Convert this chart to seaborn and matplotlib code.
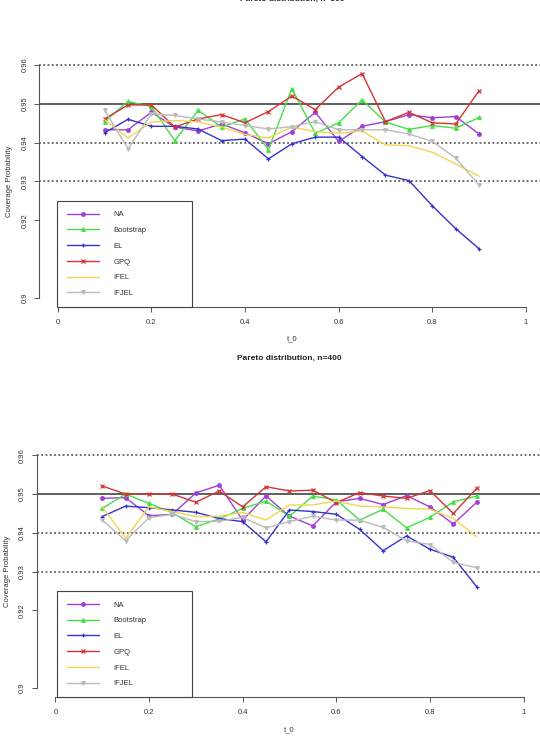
import matplotlib
matplotlib.use("Agg")
import matplotlib.pyplot as plt
import seaborn as sns
import pandas as pd

# data
t0 = [0.1, 0.15, 0.2, 0.25, 0.3, 0.35, 0.4, 0.45, 0.5, 0.55, 0.6, 0.65, 0.7, 0.75, 0.8, 0.85, 0.9]

na_300 = [0.9433, 0.9433, 0.9478, 0.9440, 0.9430, 0.9448, 0.9425, 0.9397, 0.9428, 0.9478, 0.9403, 0.9442, 0.9454, 0.9472, 0.9464, 0.9467, 0.9422]
bs_300 = [0.9454, 0.9506, 0.9493, 0.9405, 0.9483, 0.9440, 0.9461, 0.9382, 0.9539, 0.9424, 0.9451, 0.9510, 0.9453, 0.9434, 0.9444, 0.9437, 0.9465]
el_300 = [0.9425, 0.9460, 0.9442, 0.9442, 0.9435, 0.9405, 0.9409, 0.9358, 0.9397, 0.9414, 0.9414, 0.9364, 0.9316, 0.9302, 0.9237, 0.9178, 0.9126]
gpq_300 = [0.9461, 0.9497, 0.9497, 0.9440, 0.9461, 0.9472, 0.9451, 0.9480, 0.9520, 0.9485, 0.9543, 0.9578, 0.9454, 0.9478, 0.9451, 0.9448, 0.9534]
ifel_300 = [0.9459, 0.9412, 0.9453, 0.9457, 0.9453, 0.9440, 0.9421, 0.9412, 0.9440, 0.9428, 0.9424, 0.9430, 0.9394, 0.9392, 0.9375, 0.9345, 0.9313]
ifjel_300 = [0.9484, 0.9384, 0.9474, 0.9470, 0.9461, 0.9453, 0.9444, 0.9435, 0.9441, 0.9454, 0.9433, 0.9433, 0.9433, 0.9422, 0.9403, 0.9360, 0.9290]

na_400 = [0.9489, 0.9491, 0.9444, 0.9448, 0.9503, 0.9523, 0.9433, 0.9495, 0.9443, 0.9418, 0.9480, 0.9489, 0.9473, 0.9496, 0.9467, 0.9423, 0.9479]
bs_400 = [0.9463, 0.9500, 0.9476, 0.9452, 0.9416, 0.9436, 0.9463, 0.9482, 0.9443, 0.9495, 0.9485, 0.9433, 0.9461, 0.9413, 0.9440, 0.9480, 0.9495]
el_400 = [0.9442, 0.9469, 0.9465, 0.9459, 0.9453, 0.9437, 0.9429, 0.9377, 0.9459, 0.9455, 0.9448, 0.9409, 0.9354, 0.9392, 0.9358, 0.9337, 0.9261]
gpq_400 = [0.9521, 0.9500, 0.9500, 0.9500, 0.9479, 0.9508, 0.9467, 0.9519, 0.9508, 0.9510, 0.9478, 0.9504, 0.9495, 0.9489, 0.9509, 0.9450, 0.9515]
ifel_400 = [0.9467, 0.9386, 0.9467, 0.9455, 0.9442, 0.9443, 0.9453, 0.9433, 0.9472, 0.9472, 0.9482, 0.9469, 0.9467, 0.9463, 0.9461, 0.9437, 0.9390]
ifjel_400 = [0.9433, 0.9380, 0.9439, 0.9448, 0.9429, 0.9430, 0.9440, 0.9413, 0.9429, 0.9443, 0.9433, 0.9433, 0.9414, 0.9380, 0.9370, 0.9324, 0.9310]

methods = ["NA", "Bootstrap", "EL", "GPQ", "IFEL", "IFJEL"]
colors = ["#A040D8", "#44E044", "#3434CC", "#D43434", "#F2D450", "#BBBBBB"]
markers = ["o", "^", "+", "x", "", "v"]
y_ticks = [0.9, 0.92, 0.93, 0.94, 0.95, 0.96]
x_ticks = [0, 0.2, 0.4, 0.6, 0.8, 1]

sns.set_style("white")
plt.rcParams["font.family"] = ["Liberation Sans", "DejaVu Sans"]

fig = plt.figure(figsize=(5.4, 7.45), dpi=100)

W, H = 540, 745

def panel(left_px, top_px, series, n):
    width_px = 505.7
    height_px = 251.3
    ax = fig.add_axes([left_px / W, 1 - (top_px + height_px) / H, width_px / W, height_px / H])
    for name, vals, col, mk in zip(methods, series, colors, markers):
        df = pd.DataFrame({"t_0": t0, "cp": vals})
        if mk:
            sns.lineplot(data=df, x="t_0", y="cp", ax=ax, color=col, marker=mk, markersize=2.6,
                         markeredgewidth=0.9, markeredgecolor=col, markerfacecolor=col,
                         linewidth=1.0, label=name)
        else:
            sns.lineplot(data=df, x="t_0", y="cp", ax=ax, color=col, linewidth=1.0, label=name)
    for yv in [0.93, 0.94, 0.96]:
        ax.axhline(yv, color="#444444", linestyle=(0, (1.2, 1.6)), linewidth=1.1, zorder=0)
    ax.axhline(0.95, color="#333333", linewidth=1.1, zorder=0)

    ax.set_xlim(-0.04, 1.04)
    ax.set_ylim(0.8976, 0.9624)
    for s in ["top", "right"]:
        ax.spines[s].set_visible(False)
    ax.spines["left"].set_bounds(0.9, 0.96)
    ax.spines["bottom"].set_bounds(0, 1)
    for s in ["left", "bottom"]:
        ax.spines[s].set_color("#555555")
        ax.spines[s].set_linewidth(0.8)
    ax.set_xticks(x_ticks)
    ax.set_xticklabels(["0", "0.2", "0.4", "0.6", "0.8", "1"])
    ax.set_yticks(y_ticks)
    ax.set_yticklabels([str(v) for v in y_ticks], rotation=90, va="center")
    ax.tick_params(axis="both", direction="out", length=3.5, width=0.7, color="#555555",
                   labelsize=5.5, labelcolor="#333333", left=True, bottom=True)
    ax.tick_params(axis="x", pad=5)
    ax.tick_params(axis="y", pad=4)
    ax.set_xlabel("")
    ax.set_ylabel("Coverage Probability", fontsize=5.5, color="#333333", labelpad=6)
    ax.text(0.5, -32 / height_px, "t_0", transform=ax.transAxes, ha="center", va="center",
            fontsize=5.5, color="#333333")

    handles, labels = ax.get_legend_handles_labels()
    bx = (57 - left_px) / width_px
    leg = ax.legend(handles, labels, loc="lower left", bbox_to_anchor=(bx, 0, 135 / width_px, 0.5),
                    mode="expand", borderaxespad=0, fontsize=5.5, labelspacing=1.1,
                    handlelength=4.2, handletextpad=1.9, borderpad=1.3,
                    fancybox=False, framealpha=1, edgecolor="#444444")
    leg.get_frame().set_linewidth(0.8)
    for t in leg.get_texts():
        t.set_color("#333333")
    return ax

ax1 = panel(39, 55.7, [na_300, bs_300, el_300, gpq_300, ifel_300, ifjel_300], 300)
ax1.text(0.5, 1 + 56.5 / 251.3, "Pareto distribution, n=300", transform=ax1.transAxes,
         ha="center", va="center", fontsize=6, fontweight="bold", color="#222222")

ax2 = panel(36.6, 446, [na_400, bs_400, el_400, gpq_400, ifel_400, ifjel_400], 400)
ax2.text(0.5, 1 + 88 / 251.3, "Pareto distribution, n=400", transform=ax2.transAxes,
         ha="center", va="center", fontsize=6, fontweight="bold", color="#222222")

fig.savefig("out.png", dpi=100)
